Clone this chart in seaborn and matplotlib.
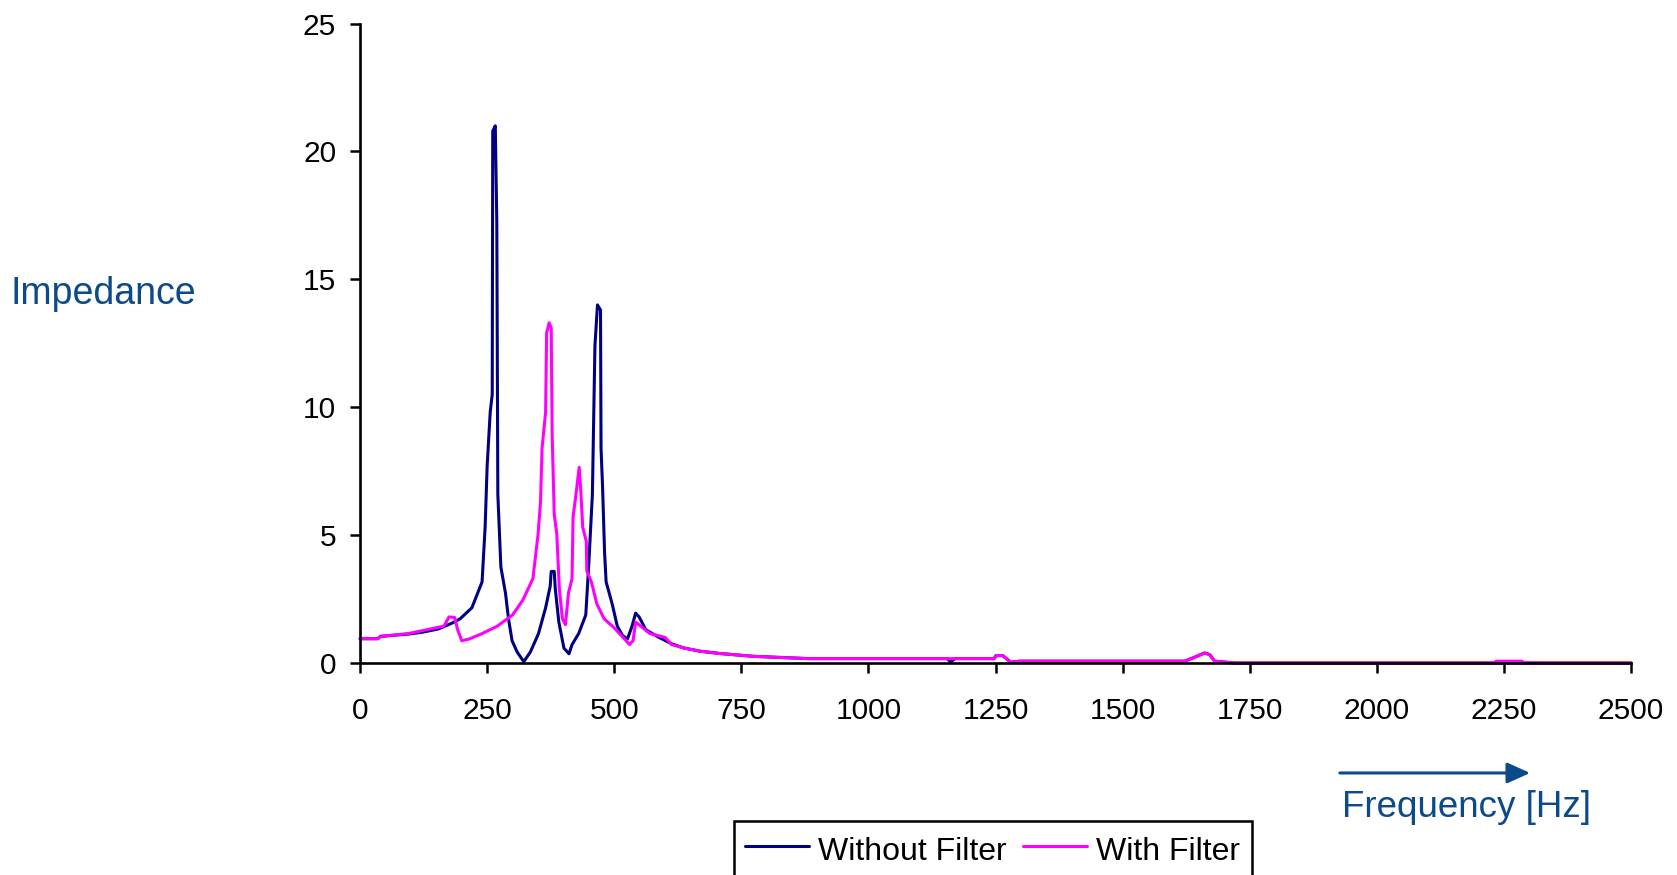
import matplotlib
matplotlib.use("Agg")
import matplotlib.pyplot as plt
import seaborn as sns
import pandas as pd

# ---- data ----
freq_without = [0, 35, 40, 95, 122, 154, 181, 197, 220, 240, 246, 250, 256, 260, 261,
                266, 269, 271, 277, 286, 292, 299, 309, 322, 335, 351, 365, 374, 376, 382,
                384, 391, 401, 411, 417, 430, 444, 450, 457, 462, 467, 473, 474, 477, 481,
                484, 490, 496, 506, 516, 526, 535, 542, 549, 562, 588, 613, 636, 669, 708,
                774, 883, 1155, 1162, 1170, 1247, 1251, 1264, 1280, 1297, 1622, 1635, 1661,
                1671, 1681, 1704, 1720, 2500]
imp_without = [0.95, 0.95, 1.04, 1.13, 1.2, 1.33, 1.56, 1.73, 2.16, 3.17, 5.3, 7.7, 9.8, 10.5, 20.8,
               21.0, 17.2, 6.6, 3.75, 2.74, 1.73, 0.87, 0.43, 0.05, 0.43, 1.15, 2.16, 3.0, 3.58, 3.58,
               2.9, 1.6, 0.58, 0.36, 0.72, 1.15, 1.88, 3.9, 6.6, 12.4, 14.0, 13.8, 8.4, 6.9, 4.3,
               3.17, 2.74, 2.3, 1.44, 1.08, 0.94, 1.44, 1.95, 1.8, 1.3, 1.0, 0.75, 0.59, 0.46, 0.37,
               0.26, 0.17, 0.17, 0.04, 0.17, 0.17, 0.29, 0.29, 0.03, 0.07, 0.07, 0.17, 0.39,
               0.33, 0.07, 0.03, 0.0, 0.0]

freq_with = [0, 35, 40, 95, 165, 175, 186, 192, 200, 215, 240, 270, 300, 320, 340,
             350, 355, 358, 365, 367, 372, 376, 378, 382, 387, 392, 398, 404, 410, 417,
             419, 426, 431, 434, 438, 445, 446, 455, 466, 480, 500, 520, 530, 537, 542,
             552, 570, 600, 613, 636, 669, 708, 774, 883, 1247, 1251, 1264, 1280, 1297, 1622,
             1635, 1661, 1671, 1681, 1704, 1720, 2229, 2235, 2285, 2290, 2500]
imp_with = [0.95, 0.95, 1.04, 1.15, 1.44, 1.8, 1.78, 1.3, 0.87, 0.94, 1.15, 1.44, 1.88, 2.45, 3.3,
            5.0, 6.3, 8.4, 9.8, 12.9, 13.3, 13.1, 8.8, 5.8, 5.05, 2.9, 1.73, 1.5, 2.74, 3.3,
            5.7, 6.8, 7.65, 6.8, 5.3, 4.76, 3.6, 3.17, 2.3, 1.73, 1.37, 0.94, 0.72, 0.87, 1.6,
            1.44, 1.15, 1.0, 0.72, 0.59, 0.46, 0.37, 0.26, 0.17, 0.17, 0.29, 0.29, 0.03, 0.07, 0.07,
            0.17, 0.39, 0.33, 0.07, 0.03, 0.0, 0.0, 0.07, 0.07, 0.0, 0.0]

series_names = ["Without Filter", "With Filter"]
series_colors = ["#000080", "#FF00FF"]
x_ticks = [0, 250, 500, 750, 1000, 1250, 1500, 1750, 2000, 2250, 2500]
y_ticks = [0, 5, 10, 15, 20, 25]

df = pd.concat([
    pd.DataFrame({"Frequency": freq_without, "Impedance": imp_without, "Series": series_names[0]}),
    pd.DataFrame({"Frequency": freq_with, "Impedance": imp_with, "Series": series_names[1]}),
], ignore_index=True)

sns.set_style("white")
plt.rcParams["font.family"] = ["Liberation Sans", "DejaVu Sans"]

fig = plt.figure(figsize=(16.77, 8.75), dpi=100)
ax = fig.add_axes([0.2147, 0.2423, 0.7579, 0.7308])

sns.lineplot(data=df, x="Frequency", y="Impedance", hue="Series", hue_order=series_names,
             palette=series_colors, sort=False, estimator=None, linewidth=2.2, ax=ax,
             legend=False)
for ln in ax.get_lines():
    ln.set_clip_on(False)

ax.set_xlim(0, 2500)
ax.set_ylim(0, 25)
ax.set_xticks(x_ticks)
ax.set_yticks(y_ticks)
ax.set_xlabel("")
ax.set_ylabel("")
for s in ["top", "right"]:
    ax.spines[s].set_visible(False)
for s in ["left", "bottom"]:
    ax.spines[s].set_color("black")
    ax.spines[s].set_linewidth(1.9)
ax.tick_params(axis="both", direction="out", length=7.2, width=1.8, color="black",
               labelsize=21.5, labelcolor="black")
ax.tick_params(axis="y", pad=10, left=True)
ax.tick_params(axis="x", pad=17, bottom=True)

label_color = "#0B4A8B"
fig.text(0.0064, 0.664, "Impedance", ha="left", va="center", fontsize=27, color=label_color)
fig.text(0.8003, 0.0777, "Frequency [Hz]", ha="left", va="center", fontsize=26.5, color=label_color)
fig.add_artist(matplotlib.patches.FancyArrowPatch(
    (0.7973, 0.1166), (0.9141, 0.1166), transform=fig.transFigure,
    arrowstyle="-|>,head_length=1.0,head_width=0.45", mutation_scale=14,
    color=label_color, linewidth=2.2))

handles = [matplotlib.lines.Line2D([], [], color=c, linewidth=2.2) for c in series_colors]
leg = fig.legend(handles, series_names, loc="upper left", bbox_to_anchor=(0.4375, 0.0617),
                 ncol=2, fontsize=23, frameon=True, fancybox=False, shadow=False,
                 handlelength=2.0, handletextpad=0.3, columnspacing=0.5, borderpad=0.35,
                 handleheight=1.3, borderaxespad=0, labelcolor="black")
leg.get_frame().set_edgecolor("black")
leg.get_frame().set_linewidth(1.8)
leg.get_frame().set_alpha(1)

fig.savefig("out.png", dpi=100)
